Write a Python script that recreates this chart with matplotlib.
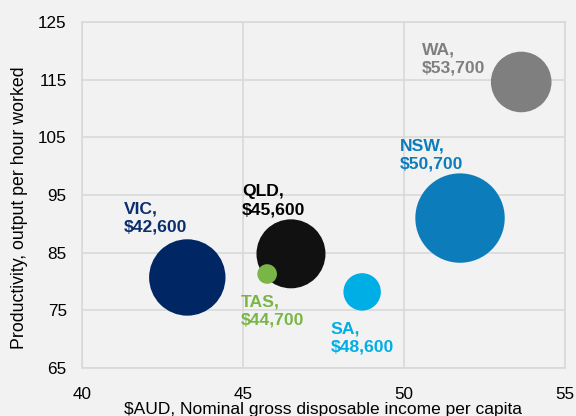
import matplotlib
matplotlib.use("Agg")
import matplotlib.pyplot as plt

states = ["WA", "NSW", "QLD", "VIC", "TAS", "SA"]
income_label = ["$53,700", "$50,700", "$45,600", "$42,600", "$44,700", "$48,600"]
income_x = [53.64, 51.74, 46.49, 43.27, 45.75, 48.70]
productivity = [114.6, 91.0, 84.8, 80.7, 81.3, 78.2]
bubble_size = [918, 1998, 1190, 1459, 96, 350]
colors = ["#7f7f7f", "#0c7cba", "#111111", "#002664", "#7ab547", "#00aee6"]
text_colors = ["#7f7f7f", "#0c7cba", "#000000", "#0a2d6e", "#7ab547", "#00aee6"]
label_x = [50.56, 49.88, 44.97, 41.30, 44.94, 47.73]
label_y = [121.5, 104.8, 96.9, 93.8, 77.8, 73.0]

x_ticks = [40, 45, 50, 55]
y_ticks = [65, 75, 85, 95, 105, 115, 125]

bg = "#f2f2f2"
grid = "#d9d9d9"

plt.rcParams["font.family"] = ["Liberation Sans", "DejaVu Sans"]

fig = plt.figure(figsize=(5.76, 4.16), dpi=100, facecolor=bg)
ax = fig.add_axes([82/576, 48/416, (565-82)/576, (368-22)/416], facecolor=bg)

ax.set_xlim(40, 55)
ax.set_ylim(65, 125)
ax.set_xticks(x_ticks)
ax.set_yticks(y_ticks)
ax.grid(True, color=grid, linewidth=1.2)
ax.set_axisbelow(True)
for s in ax.spines.values():
    s.set_color(grid)
    s.set_linewidth(1.2)
ax.tick_params(length=0, labelsize=12.3, colors="#000000")
ax.tick_params(axis="x", pad=14)
ax.tick_params(axis="y", pad=11)

scale = (2 * 0.72) ** 2
ax.scatter(income_x, productivity, s=[b * scale for b in bubble_size],
           c=colors, linewidths=0, zorder=3)

for st, inc, lx, ly, tc in zip(states, income_label, label_x, label_y, text_colors):
    ax.text(lx, ly, f"{st},\n{inc}", color=tc, fontsize=12.6, fontweight="bold",
            ha="left", va="top", linespacing=1.25, zorder=4)

ax.set_xlabel("$AUD, Nominal gross disposable income per capita", fontsize=12.5)
ax.set_ylabel("Productivity, output per hour worked", fontsize=12.8)
ax.xaxis.set_label_coords(0.5, -0.098, transform=ax.transAxes)
ax.yaxis.set_label_coords(20/576, 0.5, transform=fig.transFigure)
ax.xaxis.label.set_va("top")
ax.yaxis.label.set_va("center")

fig.savefig("out.png", dpi=100, facecolor=bg)
